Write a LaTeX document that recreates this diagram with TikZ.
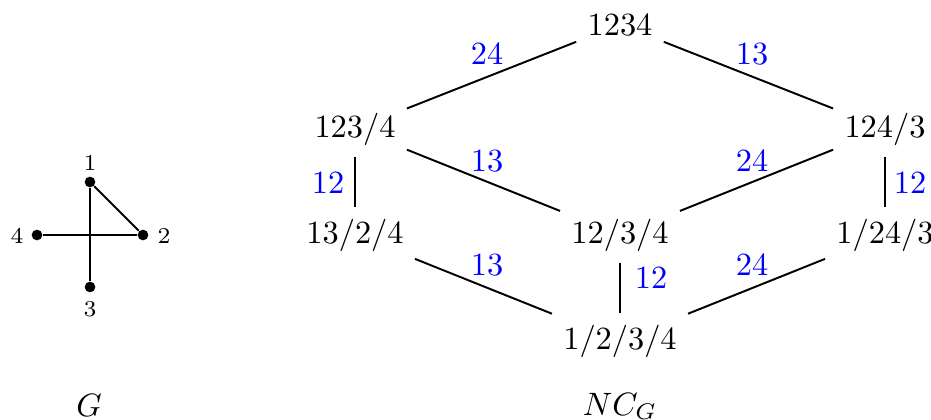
\documentclass[tikz,border=0pt]{standalone}
\begin{document}
\begin{tikzpicture}[x=0.309pt,y=-0.309pt,
  part/.style={anchor=base, inner sep=0.3333em},
  elab/.style={anchor=base, text=blue, inner sep=0pt},
  edge/.style={semithick},
  vtx/.style={circle, fill=black, inner sep=0pt, minimum size=3.3pt},
  vlab/.style={anchor=base, font=\scriptsize, inner sep=0pt},
  title/.style={anchor=base, inner sep=0pt}]
\useasboundingbox (0,0) rectangle (931,419);
% graph G
\node[vtx] (v1) at (90,182) {};
\node[vtx] (v2) at (143,235) {};
\node[vtx] (v3) at (90,287) {};
\node[vtx] (v4) at (37,235) {};
\draw[edge] (v1) -- (v2);
\draw[edge] (v1) -- (v3);
\draw[edge] (v4) -- (v2);
\node[vlab] (l1) at (90,170) {1};
\node[vlab] (l2) at (164,243) {2};
\node[vlab] (l3) at (90,316) {3};
\node[vlab] (l4) at (17,243) {4};
\node[title] (tG) at (89,416) {$G$};
% lattice
\node[part] (a) at (620,35) {$1234$};
\node[part] (b1) at (355,137) {$123/4$};
\node[part] (b2) at (885,137) {$124/3$};
\node[part] (c1) at (355,243) {$13/2/4$};
\node[part] (c2) at (620,243) {$12/3/4$};
\node[part] (c3) at (885,243) {$1/24/3$};
\node[part] (d) at (620,349) {$1/2/3/4$};
\node[title] (tN) at (620,415) {$NC_G$};
\draw[edge] (a) -- (b1);
\draw[edge] (a) -- (b2);
\draw[edge] (b1) -- (c1);
\draw[edge] (b1) -- (c2);
\draw[edge] (b2) -- (c2);
\draw[edge] (b2) -- (c3);
\draw[edge] (c1) -- (d);
\draw[edge] (c2) -- (d);
\draw[edge] (c3) -- (d);
\node[elab] (e1) at (487,64) {$24$};
\node[elab] (e2) at (752,64) {$13$};
\node[elab] (e3) at (328,193) {$12$};
\node[elab] (e4) at (487,171) {$13$};
\node[elab] (e5) at (752,171) {$24$};
\node[elab] (e6) at (910,193) {$12$};
\node[elab] (e7) at (487,275) {$13$};
\node[elab] (e8) at (651,288) {$12$};
\node[elab] (e9) at (752,275) {$24$};
\end{tikzpicture}
\end{document}
